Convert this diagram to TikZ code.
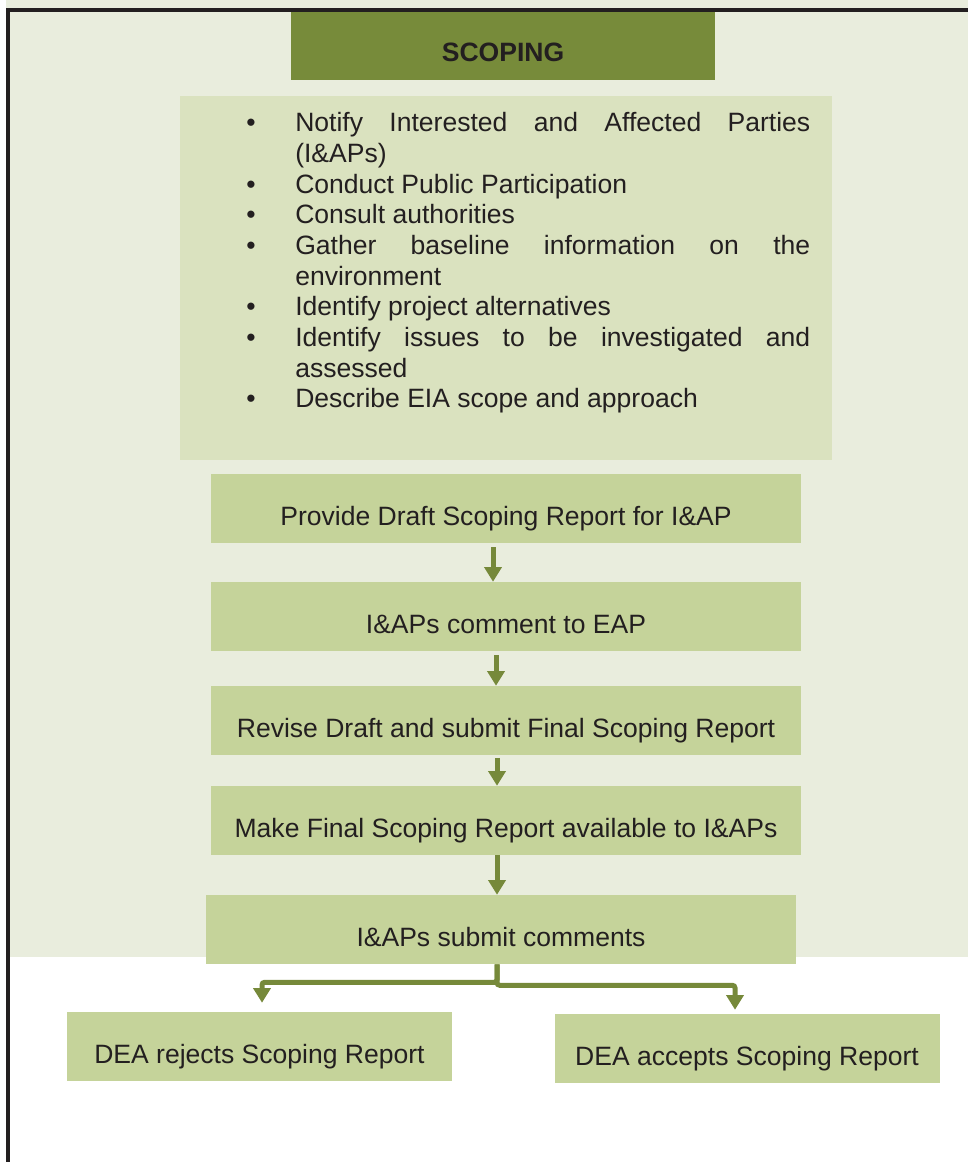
\documentclass[tikz,border=0pt]{standalone}
\usepackage{fontspec}
\setmainfont{Liberation Sans}
\usetikzlibrary{arrows.meta}
\definecolor{pagetint}{HTML}{E9EDDD}
\definecolor{headfill}{HTML}{778B3A}
\definecolor{listfill}{HTML}{DAE2BF}
\definecolor{stepfill}{HTML}{C5D39A}
\definecolor{flowline}{HTML}{76893A}
\definecolor{ink}{HTML}{231F20}
\newcommand{\taskitem}{\par\hangindent=36.75pt\hangafter=1\noindent\makebox[36.75pt][l]{\textbullet}}

\begin{document}
\begin{tikzpicture}[x=0.75pt,y=-0.75pt,
    txt/.style={font=\fontsize{19.9pt}{23pt}\selectfont,text=ink},
    stepbox/.style={txt,fill=stepfill,inner sep=0pt,minimum width=442.5pt,minimum height=51.75pt,text height=25.5pt,text depth=0pt},
    deabox/.style={stepbox,minimum width=288.75pt},
    headbox/.style={stepbox,fill=headfill,minimum width=318pt,minimum height=51pt,text height=23.25pt,font=\fontsize{19.9pt}{23pt}\selectfont\bfseries},
    flow/.style={draw=flowline,line width=3.75pt,-{Triangle[width=12.75pt,length=11pt]}}]
    \useasboundingbox (0,0) rectangle (968,1162);
    \fill[pagetint] (6,0) rectangle (968,957);
    \node[headbox] (head) at (503,46) {SCOPING};
    \node[fill=listfill,inner sep=0pt,minimum width=489pt,minimum height=273pt] (tasks) at (506,278) {};
    \node[txt,anchor=north west,inner sep=0pt,text width=423pt,align=justify,
      execute at begin node={\tolerance=10000\hyphenpenalty=10000}] (tasklist) at (246,101) {%
      \taskitem Notify Interested and Affected Parties (I\&APs)
      \taskitem Conduct Public Participation
      \taskitem Consult authorities
      \taskitem Gather baseline information on the environment
      \taskitem Identify project alternatives
      \taskitem Identify issues to be investigated and assessed
      \taskitem Describe EIA scope and approach\par};
    \node[stepbox] (draft)   at (506,508.5) {Provide Draft Scoping Report for I\&AP};
    \node[stepbox] (comment) at (506,616.5) {I\&APs comment to EAP};
    \node[stepbox] (revise)  at (506,720.5) {Revise Draft and submit Final Scoping Report};
    \node[stepbox] (avail)   at (506,820.5) {Make Final Scoping Report available to I\&APs};
    \node[stepbox] (submit)  at (501,929.5) {I\&APs submit comments};
    \node[deabox] (reject) at (259.5,1046.5) {DEA rejects Scoping Report};
    \node[deabox] (accept) at (747,1048.5) {DEA accepts Scoping Report};
    \draw[flow,shorten <=3pt] ([xshift=-9.75pt]draft.south) -- ([xshift=-9.75pt]comment.north);
    \draw[flow,shorten <=3pt] ([xshift=-7.5pt]comment.south) -- ([xshift=-7.5pt]revise.north);
    \draw[flow,shorten <=2pt] ([xshift=-6.75pt]revise.south) -- ([xshift=-6.75pt]avail.north);
    \draw[flow] ([xshift=-6.75pt]avail.south) -- ([xshift=-6.75pt]avail.south |- submit.north);
    \draw[flow,rounded corners=2pt,shorten >=6.75pt] ([xshift=-3pt]submit.south) -- ++(0,18) -| ([xshift=1.875pt]reject.north);
    \draw[flow,rounded corners=2pt,shorten >=3pt] ([xshift=-3pt]submit.south) -- ++(0,21) -| ([xshift=-9pt]accept.north);
    \draw[ink,line width=3pt] (8,1162) -- (8,10) -- (968,10);
  \end{tikzpicture}
\end{document}
